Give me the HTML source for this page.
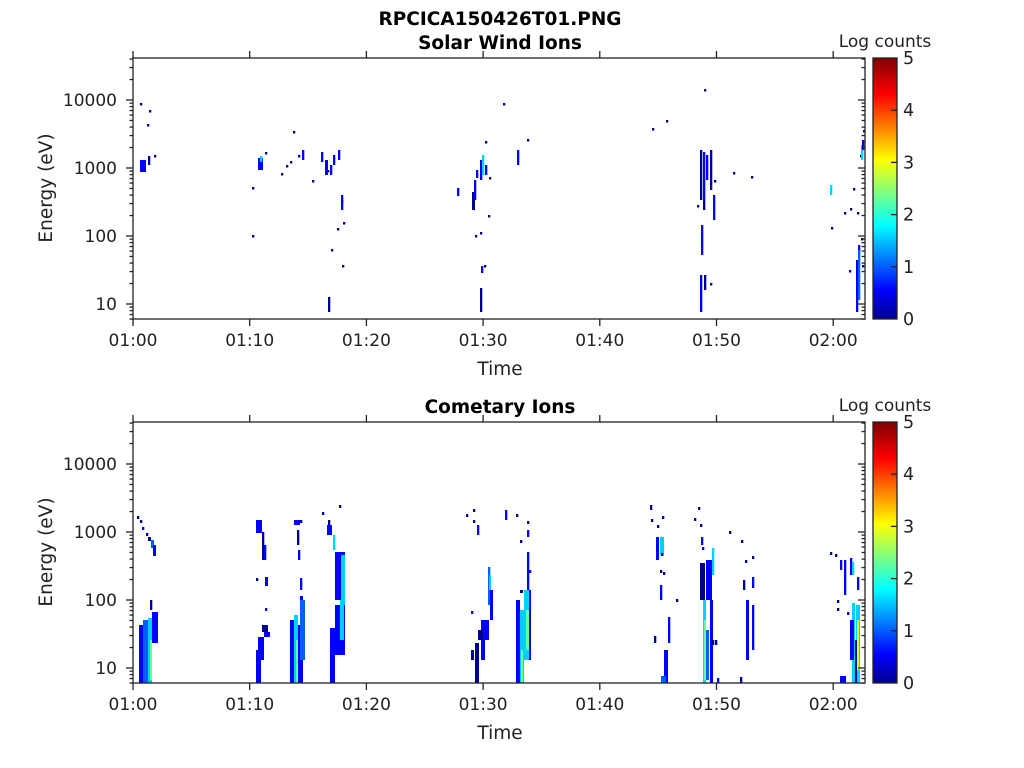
<!DOCTYPE html>
<html><head><meta charset="utf-8"><style>
html,body{margin:0;padding:0;background:#fff;}
svg{display:block;font-family:"DejaVu Sans","Liberation Sans",sans-serif;}
</style></head><body>
<svg id="s" width="1024" height="768" viewBox="0 0 1024 768" xmlns="http://www.w3.org/2000/svg">
<defs><linearGradient id="jet" x1="0" y1="1" x2="0" y2="0">
<stop offset="0" stop-color="#00008f"/><stop offset="0.11" stop-color="#0000ff"/>
<stop offset="0.36" stop-color="#00ffff"/><stop offset="0.61" stop-color="#ffff00"/>
<stop offset="0.86" stop-color="#ff0000"/><stop offset="1" stop-color="#800000"/>
</linearGradient></defs>
<text x="500" y="25" font-size="18.5" font-weight="bold" text-anchor="middle">RPCICA150426T01.PNG</text>
<text x="500" y="49" font-size="18.5" font-weight="bold" text-anchor="middle">Solar Wind Ions</text>
<text x="500" y="413" font-size="18.5" font-weight="bold" text-anchor="middle">Cometary Ions</text>
<g id="data"></g>
<g id="axes" stroke="#222" stroke-width="1.3" fill="none"></g>
<g id="labels" font-size="17" fill="#222"></g>
</svg>
<script>
var NS="http://www.w3.org/2000/svg";
var D=document.getElementById("data"),A=document.getElementById("axes"),L=document.getElementById("labels");
function el(p,tag,at,txt){var e=document.createElementNS(NS,tag);for(var k in at)e.setAttribute(k,at[k]);if(txt)e.textContent=txt;p.appendChild(e);return e;}
function ln(x1,y1,x2,y2){el(A,"line",{x1:x1,y1:y1,x2:x2,y2:y2});}
function tx(x,y,t,anc,fs){el(L,"text",{x:x,y:y,"text-anchor":anc||"middle","font-size":fs||17},t);}
var C={d:"#00008f",b:"#0000ff",m:"#0060ff",c:"#00d0ff",g:"#60ffa0",y:"#dfff20"};
function r(x,y,w,h,c){el(D,"rect",{x:x,y:y,width:w,height:h,fill:C[c||"d"]});}
function dot(x,y,c){r(x,y,2.3,2.5,c);}
function panel(o){
  var T=58+o,B=319+o;
  el(A,"rect",{x:133,y:T,width:732,height:261});
  var times=["01:00","01:10","01:20","01:30","01:40","01:50","02:00"];
  for(var i=0;i<7;i++){var x=133+i*116.7;ln(x,B,x,B+7);ln(x,T,x,T-7);tx(x,B+27,times[i]);}
  tx(500,B+56,"Time","middle",18.5);
  for(var dd=0;dd<5;dd++){for(var m=1;m<10;m++){var v=Math.pow(10,dd)*m;var lg=Math.log10(v);
    var y=304+o-68*(lg-1);if(y>B+0.5||y<T-0.5)continue;
    var len=(m==1)?7:3.5;ln(133-len,y,133,y);ln(865-len,y,865,y);}}
  var lab=["10","100","1000","10000"];
  for(var j=0;j<4;j++)tx(117,304+o-68*j+6,lab[j],"end");
  el(L,"text",{x:0,y:0,"font-size":18.5,transform:"translate(52,"+(188+o)+") rotate(-90)","text-anchor":"middle"},"Energy (eV)");
  el(D,"rect",{x:873,y:T,width:24,height:261,fill:"url(#jet)"});
  el(A,"rect",{x:873,y:T,width:24,height:261});
  for(var k=0;k<=5;k++){var y2=B-k*52.2;tx(903,y2+6,String(k),"start",17.5);if(k>0&&k<5)ln(891,y2,897,y2);}
  tx(885,T-11,"Log counts","middle",17);
}
[[140,103],[149,110],[147,124],[154,155],[252,187],[252,235],[265,152],[281,173],[286,165],[290,161],[293,131],[298,155],[312,180],[327,170],[337,228],[331,249],[342,265],[341,200],[457,188],[489,177],[485,141],[480,232],[475,235],[484,265],[488,215],[503,103],[527,139],[652,128],[666,120],[704,89],[697,205],[733,172],[751,176],[831,227],[844,212],[850,208],[853,188],[857,212],[860,155],[863,130],[849,270],[861,238],[862,265],[343,222],[710,283],[714,180]].forEach(function(p){dot(p[0],p[1]);});
[[140,160,6,12,"b"],[148,156,2.3,9,"d"],[258,158,5,12,"b"],[260,156,2.3,6,"c"],[302,150,2.3,10,"b"],[321,152,2.3,10,"b"],[325,160,3,15,"b"],[330,165,2.3,10,"b"],[333,155,2.3,10,"b"],[338,150,2.3,10,"b"],[341,195,2.3,15,"b"],[328,297,2.3,15,"d"],[457,188,2.3,8,"b"],[472,192,3,18,"d"],[474,180,2.3,20,"b"],[476,170,2.3,8,"b"],[480,160,2.3,20,"b"],[482,155,2.3,20,"c"],[485,165,2.3,10,"b"],[481,266,2.3,7,"b"],[480,288,2.3,24,"d"],[517,150,2.3,15,"b"],
[700,150,2.3,50,"d"],[703,152,2.3,48,"b"],[706,155,2.3,25,"b"],[710,150,2.3,40,"d"],[713,195,2.3,25,"b"],[703,200,2.3,10,"d"],[701,225,2.3,30,"b"],[700,275,2.3,37,"b"],[704,275,2.3,15,"d"],[830,185,2.3,10,"c"],[861,145,2.3,15,"c"],[862,140,2.3,10,"b"],[858,245,2.3,10,"b"],[856,260,2.3,52,"b"],[858,250,2.3,50,"m"]].forEach(function(a){r(a[0],a[1],a[2],a[3],a[4]);});
var bot=[[137,516,2.3,3,"d"],[140,520,2.3,3,"d"],[142,527,2.3,3,"b"],[146,533,2.3,3,"d"],[148,537,3,4,"d"],[151,540,3,8,"m"],[153,545,3,11,"b"],[150,600,2.3,10,"d"],[139,625,4,58,"b"],[143,620,5,63,"m"],[148,618,4,65,"c"],[150,640,2,40,"g"],[152,612,6,31,"b"],
[256,520,6,13,"b"],[262,532,2.3,28,"d"],[264,545,2.3,15,"b"],[256,578,2.3,3,"d"],[265,577,3,9,"b"],[265,608,2.3,3,"b"],[262,625,6,7,"d"],[264,632,6,5,"b"],[258,637,6,23,"b"],[256,650,5,33,"b"],
[294,520,6,5,"b"],[297,530,2.3,15,"d"],[298,550,2.3,10,"b"],[300,578,2.3,12,"b"],[300,596,3,22,"b"],[290,620,4,63,"b"],[294,615,4,68,"c"],[296,640,2,43,"g"],[298,625,5,58,"b"],[300,600,5,60,"m"],[300,520,2.3,3,"d"],
[328,520,2.3,5,"d"],[327,525,5,10,"b"],[333,535,2.3,15,"c"],[335,552,10,48,"b"],[341,555,4,50,"c"],[335,605,10,50,"b"],[340,600,4,40,"c"],[330,628,5,55,"b"],[339,505,2.3,3,"d"],[322,512,2.3,3,"d"],
[466,514,2.3,3,"d"],[473,509,2.3,3,"d"],[473,520,2.3,3,"d"],[477,525,2.3,10,"b"],[471,650,3,10,"d"],[475,643,4,40,"d"],[481,620,4,40,"b"],[488,567,2.3,38,"m"],[489,575,2,15,"c"],[490,590,3,30,"b"],[485,620,4,20,"b"],[478,630,5,10,"d"],[471,611,2.3,3,"b"],
[505,510,2.3,10,"b"],[516,514,2.3,3,"d"],[527,521,2.3,3,"d"],[527,530,2.3,7,"b"],[527,552,2.3,8,"b"],[527,560,2.3,40,"b"],[520,540,2.3,3,"d"],[529,570,2.3,3,"b"],[520,590,3,3,"d"],[516,600,4,83,"b"],[520,610,4,73,"c"],[524,590,7,70,"c"],[526,610,3,40,"g"],[529,590,2,70,"b"],[521,650,2,33,"g"],
[650,505,2.3,5,"d"],[651,519,2.3,3,"d"],[662,516,2.3,3,"d"],[657,525,2.3,3,"d"],[656,537,3,23,"b"],[660,537,4,18,"c"],[661,553,2.3,3,"d"],[660,570,2.3,3,"d"],[663,572,2.3,3,"d"],[660,585,2.3,15,"b"],[676,599,2.3,3,"d"],[654,636,2.3,7,"d"],[668,617,2.3,26,"b"],[664,650,4,33,"b"],[661,676,5,7,"m"],
[694,518,2.3,3,"d"],[698,507,2.3,3,"d"],[700,524,2.3,3,"d"],[701,537,2.3,8,"b"],[702,547,2.3,3,"b"],[700,563,5,37,"d"],[703,600,3,83,"c"],[704,620,2,60,"g"],[706,560,6,40,"b"],[712,548,2.3,27,"c"],[710,600,3,83,"b"],[706,630,3,50,"m"],[712,640,2.3,5,"d"],[715,640,2.3,5,"d"],[717,678,2.3,5,"b"],
[729,531,2.3,3,"d"],[741,540,2.3,3,"d"],[745,560,2.3,3,"d"],[743,580,2.3,10,"d"],[752,556,2.3,3,"d"],[752,577,2.3,11,"b"],[746,600,3,60,"b"],[752,605,2.3,45,"b"],[740,677,2.3,6,"d"],
[830,552,2.3,3,"d"],[835,554,2.3,3,"d"],[840,560,2.3,10,"b"],[844,560,2.3,35,"b"],[850,558,2.3,17,"b"],[852,562,2.3,13,"c"],[857,577,2.3,13,"b"],[837,600,2.3,3,"d"],[837,608,2.3,3,"d"],[847,612,2.3,3,"d"],[852,603,3,80,"c"],[856,605,4,78,"c"],[857,620,2,50,"y"],[850,620,4,40,"b"],[855,640,2,43,"d"],[840,676,6,7,"b"]];
bot.forEach(function(a){r(a[0],a[1],a[2],a[3],a[4]);});
panel(0);panel(364);
</script>
</body></html>
